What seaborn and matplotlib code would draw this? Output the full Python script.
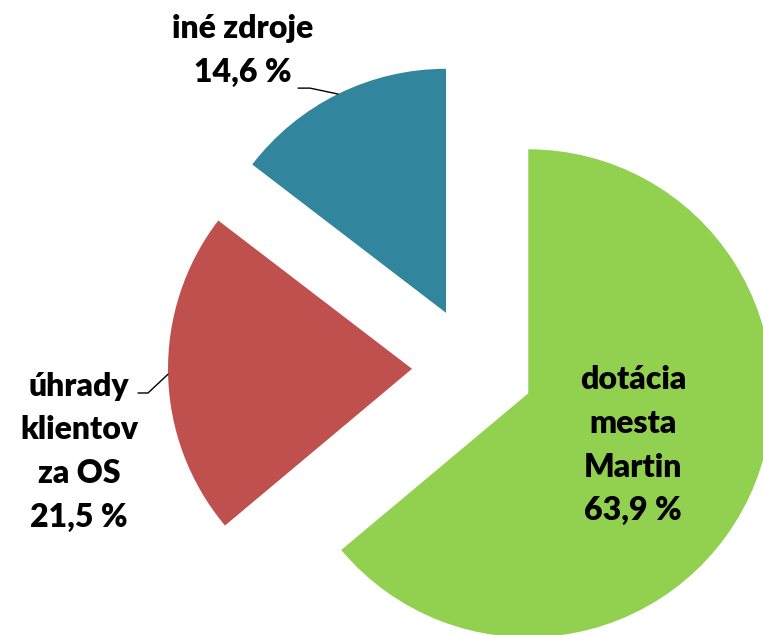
import numpy as np
import seaborn as sns
import matplotlib.pyplot as plt

sns.set_style("white")
plt.rcParams["font.family"] = ["Lato", "DejaVu Sans"]

# data
labels = ["dotácia\nmesta\nMartin", "úhrady\nklientov\nza OS", "iné zdroje"]
shares = [63.9, 21.5, 14.6]
colors = ["#92D050", "#C0504D", "#31859C"]

fig = plt.figure(figsize=(7.63, 6.35), dpi=100)
ax = fig.add_axes([0, 0, 1, 1])

wedges, _ = ax.pie(shares, colors=colors, startangle=90, counterclock=False,
                   explode=[0.25] * len(shares), radius=1.0,
                   wedgeprops=dict(linewidth=0))

# pixel layout: pie centre at (473, 367.5) px, radius 244 px
ax.set_xlim(-473 / 244, (763 - 473) / 244)
ax.set_ylim(-(635 - 367.5) / 244, 367.5 / 244)
ax.set_aspect("auto")
ax.axis("off")


def pct(v):
    return f"{v:.1f}".replace(".", ",") + " %"


def arc_point(w):
    """point on the outer arc of a wedge at its mid angle"""
    mid = np.deg2rad((w.theta1 + w.theta2) / 2)
    cx, cy = w.center
    return cx + w.r * np.cos(mid), cy + w.r * np.sin(mid)


txt = dict(fontsize=23, fontweight="heavy", ha="center", va="center",
           linespacing=1.62, color="black")

# green label inside the slice
ax.text(0.656, -0.318, f"{labels[0]}\n{pct(shares[0])}", **txt)

# red label with leader line
ax.text(-1.615, -0.346, f"{labels[1]}\n{pct(shares[1])}", **txt)
px, py = arc_point(wedges[1])
ax.plot([px, -1.332, -1.373], [py, -0.1045, -0.1045], color="black", lw=1)

# blue label with leader line
ax.text(-0.943, 1.30, f"{labels[2]}\n{pct(shares[2])}", **txt)
px, py = arc_point(wedges[2])
ax.plot([px, -0.668, -0.717], [py, 1.145, 1.145], color="black", lw=1)

fig.savefig("out.png", dpi=100)
